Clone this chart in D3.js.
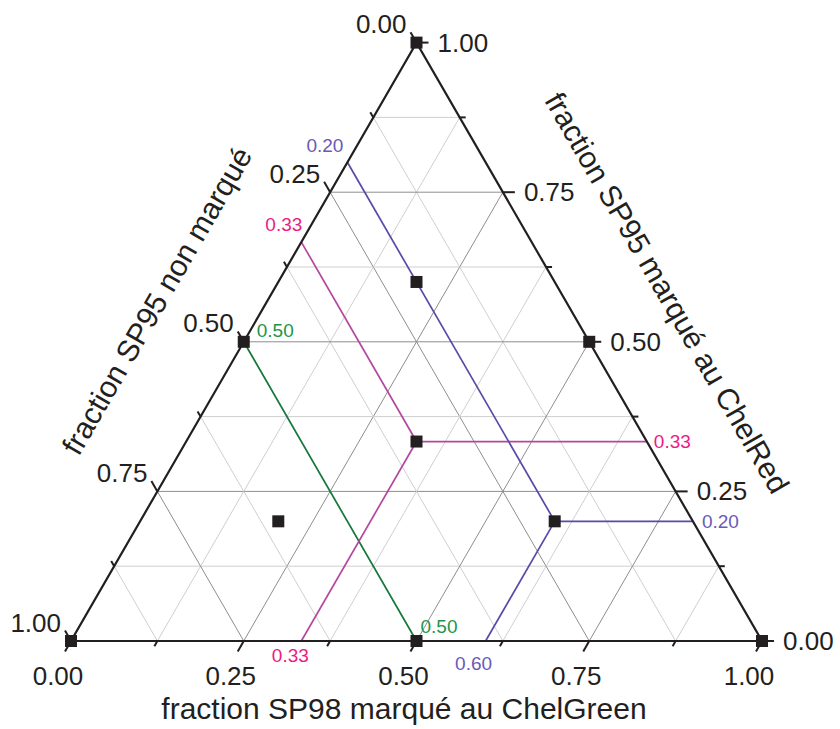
<!DOCTYPE html>
<html><head><meta charset="utf-8">
<script src="https://cdn.jsdelivr.net/npm/d3@7"></script>
<style>body{margin:0;background:#fff}svg{display:block}</style>
</head><body>
<svg id="c" width="840" height="729"></svg>
<script>
// ---- data ----
const tickValues = [0, 0.25, 0.5, 0.75, 1];
const tickLabels = ["0.00", "0.25", "0.50", "0.75", "1.00"];
const minorValues = [0.125, 0.375, 0.625, 0.875];
const gridValues = [0.125, 0.25, 0.375, 0.5, 0.625, 0.75, 0.875];
// compositions: n = SP95 non marqué, g = SP98 ChelGreen, r = SP95 ChelRed
const sampleN = [0, 0.2, 0.5, 0, 1/3, 0.2, 0.6, 1, 0.5, 0];
const sampleG = [0, 0.2, 0, 0.5, 1/3, 0.6, 0.2, 0, 0.5, 1];
const sampleR = [1, 0.6, 0.5, 0.5, 1/3, 0.2, 0.2, 0, 0, 0];
const guideSeries = ["green", "magenta", "magenta", "magenta", "purple", "purple", "purple"];
const guideFrom = [[0.5,0,0.5],[1/3,1/3,1/3],[1/3,1/3,1/3],[1/3,1/3,1/3],[0.2,0.6,0.2],[0.2,0.6,0.2],[0.2,0.6,0.2]];
const guideTo = [[0.5,0.5,0],[1/3,0,2/3],[0,2/3,1/3],[2/3,1/3,0],[0.2,0,0.8],[0,0.8,0.2],[0.4,0.6,0]];
const guideLabelSeries = ["green","green","magenta","magenta","magenta","purple","purple","purple"];
const guideLabelText = ["0.50","0.50","0.33","0.33","0.33","0.20","0.20","0.60"];
const guideLabelAt = [[0.5,0,0.5],[0.5,0.5,0],[1/3,0,2/3],[0,2/3,1/3],[2/3,1/3,0],[0.2,0,0.8],[0,0.8,0.2],[0.4,0.6,0]];
const titleBottom = "fraction SP98 marqué au ChelGreen";
const titleLeft = "fraction SP95 non marqué";
const titleRight = "fraction SP95 marqué au ChelRed";

// ---- styles / layout ----
const lineColor = {green:"#177a3d", magenta:"#b4479f", purple:"#5a49a8"};
const textColor = {green:"#1e964a", magenta:"#ec1b82", purple:"#6a5ab8"};
// label offsets [dx, dy, anchor]
const labelOff = [[13,-4.5,"start"],[4,-8,"start"],[1,-11,"end"],[7,6,"start"],[-11,21,"middle"],[-4,-10,"end"],[9,7,"start"],[-12,29,"middle"]];
const FONT = "'Liberation Sans', Arial, Helvetica, sans-serif";
const ink = "#231f20";

const svg = d3.select("#c");
const x = d3.scaleLinear().domain([0, 1]).range([71, 762]);
const y = d3.scaleLinear().domain([0, 1]).range([641, 42.6]);
const P = (c) => [x(c[1] + c[2] / 2), y(c[2])];

// grid
const gridG = svg.append("g");
gridValues.forEach(v => {
  const major = Math.abs(v * 4 - Math.round(v * 4)) < 1e-9;
  const col = major ? "#8e8e8e" : "#cfcfcf";
  const segs = [
    [[v, 0, 1 - v], [v, 1 - v, 0]],   // iso-n
    [[1 - v, v, 0], [0, v, 1 - v]],   // iso-g
    [[1 - v, 0, v], [0, 1 - v, v]]    // iso-r
  ];
  segs.forEach(s => {
    const a = P(s[0]), b = P(s[1]);
    gridG.append("line").attr("x1", a[0]).attr("y1", a[1]).attr("x2", b[0]).attr("y2", b[1])
      .attr("stroke", col).attr("stroke-width", 1);
  });
});

// guide lines
guideFrom.forEach((f, i) => {
  const a = P(f), b = P(guideTo[i]);
  svg.append("line").attr("x1", a[0]).attr("y1", a[1]).attr("x2", b[0]).attr("y2", b[1])
    .attr("stroke", lineColor[guideSeries[i]]).attr("stroke-width", 1.7);
});

// triangle edges
const tri = [[1,0,0],[0,1,0],[0,0,1]].map(P);
svg.append("path").attr("d", d3.line()(tri) + "Z")
  .attr("fill", "none").attr("stroke", ink).attr("stroke-width", 2.2).attr("stroke-linejoin", "miter");

// ticks
const axes = [
  {pt: v => [1 - v, v, 0], dir: [-0.5, 0.866]},   // bottom: g
  {pt: v => [0, 1 - v, v], dir: [1, 0]},          // right: r
  {pt: v => [v, 0, 1 - v], dir: [-0.5, -0.866]}   // left: n
];
axes.forEach(ax => {
  const draw = (v, len) => {
    const p = P(ax.pt(v));
    svg.append("line").attr("x1", p[0]).attr("y1", p[1])
      .attr("x2", p[0] + ax.dir[0] * len).attr("y2", p[1] + ax.dir[1] * len)
      .attr("stroke", ink).attr("stroke-width", 2);
  };
  tickValues.forEach(v => draw(v, 12));
  minorValues.forEach(v => draw(v, 6));
});

// markers
const ms = 12;
sampleN.forEach((n, i) => {
  const p = P([n, sampleG[i], sampleR[i]]);
  svg.append("rect").attr("x", p[0] - ms / 2).attr("y", p[1] - ms / 2)
    .attr("width", ms).attr("height", ms).attr("fill", ink);
});

// tick labels
const tl = svg.append("g").attr("font-family", FONT).attr("font-size", 26).attr("fill", ink);
tickValues.forEach((v, i) => {
  let p = P(axes[0].pt(v));
  tl.append("text").attr("x", p[0] - 13).attr("y", 685).attr("text-anchor", "middle").text(tickLabels[i]);
  p = P(axes[1].pt(v));
  tl.append("text").attr("x", p[0] + 21).attr("y", p[1] + 9).attr("text-anchor", "start").text(tickLabels[i]);
  p = P(axes[2].pt(v));
  tl.append("text").attr("x", p[0] - 10).attr("y", p[1] - 9.5).attr("text-anchor", "end").text(tickLabels[i]);
});

// guide labels
guideLabelText.forEach((t, i) => {
  const p = P(guideLabelAt[i]);
  const o = labelOff[i];
  svg.append("text").attr("x", p[0] + o[0]).attr("y", p[1] + o[1]).attr("text-anchor", o[2])
    .attr("font-family", FONT).attr("font-size", 19).attr("fill", textColor[guideLabelSeries[i]]).text(t);
});

// axis titles
const tt = svg.append("g").attr("font-family", FONT).attr("font-size", 30).attr("fill", ink).attr("text-anchor", "middle");
tt.append("text").attr("x", 404).attr("y", 719).text(titleBottom);
tt.append("text").attr("transform", "translate(166,306) rotate(-60)").text(titleLeft);
tt.append("text").attr("transform", "translate(658,298) rotate(60)").text(titleRight);
</script>
</body></html>
